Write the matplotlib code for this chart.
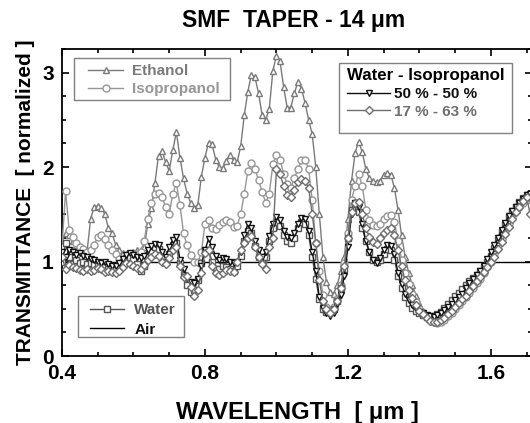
import matplotlib
matplotlib.use("Agg")
import matplotlib.pyplot as plt
from matplotlib.ticker import MultipleLocator
from matplotlib.patches import Rectangle
import numpy as np

plt.rcParams['font.family'] = ['Liberation Sans', 'DejaVu Sans']
plt.rcParams['font.weight'] = 'bold'

# wavelength grid in um, 0.40 ... 1.71
wavelength = np.round(np.arange(0.40, 1.715, 0.01), 2)

ethanol = [
    1.22, 1.30, 1.28, 1.22, 1.18, 1.14, 1.12, 1.10, 1.45, 1.58,
    1.59, 1.57, 1.50, 1.35, 1.30, 1.18, 1.12, 1.09, 1.08, 1.09,
    1.10, 1.12, 1.12, 1.15, 1.40, 1.57, 1.83, 2.12, 2.17, 2.05,
    1.96, 2.18, 2.37, 2.10, 1.88, 1.72, 1.62, 1.57, 1.60, 1.90,
    2.10, 2.26, 2.24, 2.08, 2.00, 1.99, 2.06, 2.13, 2.07, 2.05,
    2.22, 2.55, 2.80, 2.98, 2.95, 2.78, 2.55, 2.50, 2.62, 3.02,
    3.18, 3.12, 2.85, 2.63, 2.63, 2.78, 2.90, 2.83, 2.68, 2.50,
    2.35, 2.00, 1.50, 1.05, 0.78, 0.68, 0.66, 0.75, 0.90, 1.05,
    1.45, 1.85, 2.15, 2.27, 2.16, 1.98, 1.88, 1.85, 1.84, 1.85,
    1.92, 1.94, 1.92, 1.78, 1.55, 1.28, 1.05, 0.88, 0.75, 0.64,
    0.55, 0.48, 0.43, 0.39, 0.37, 0.36, 0.38, 0.41, 0.45, 0.49,
    0.53, 0.58, 0.62, 0.67, 0.72, 0.77, 0.83, 0.88, 0.94, 1.02,
    1.10, 1.18, 1.26, 1.33, 1.40, 1.47, 1.53, 1.58, 1.62, 1.66,
    1.68, 1.70,
]

isopropanol = [
    1.15, 1.75, 1.33, 1.26, 1.20, 1.15, 1.13, 1.10, 1.12, 1.18,
    1.26, 1.28, 1.24, 1.17, 1.12, 1.08, 1.03, 1.01, 1.00, 1.04,
    1.07, 1.08, 1.10, 1.22, 1.45, 1.62, 1.72, 1.73, 1.68, 1.58,
    1.50, 1.72, 1.83, 1.60, 1.30, 1.17, 1.07, 1.00, 0.99, 1.10,
    1.40, 1.44, 1.35, 1.34, 1.39, 1.42, 1.44, 1.42, 1.37, 1.38,
    1.50, 1.72, 1.96, 2.04, 1.98, 1.86, 1.74, 1.62, 1.72, 2.03,
    2.13, 2.08, 1.93, 1.82, 1.78, 1.88, 1.98, 2.07, 2.08, 1.98,
    1.65, 1.20, 0.90, 0.65, 0.52, 0.49, 0.52, 0.60, 0.75, 0.98,
    1.30, 1.65, 1.80, 1.93, 1.80, 1.55, 1.44, 1.39, 1.38, 1.40,
    1.45, 1.48, 1.49, 1.42, 1.22, 1.02, 0.88, 0.76, 0.66, 0.57,
    0.50, 0.45, 0.41, 0.38, 0.36, 0.35, 0.36, 0.38, 0.42, 0.46,
    0.50, 0.54, 0.58, 0.62, 0.67, 0.72, 0.77, 0.82, 0.88, 0.94,
    1.00, 1.08, 1.16, 1.24, 1.32, 1.40, 1.47, 1.53, 1.58, 1.62,
    1.65, 1.67,
]

water = [
    1.00, 1.20, 1.05, 0.97, 1.02, 0.98, 1.00, 0.97, 0.98, 0.96,
    0.95, 0.97, 0.94, 0.92, 0.90, 0.91, 0.95, 1.00, 1.04, 1.05,
    1.02, 0.97, 0.90, 0.95, 1.05, 1.10, 1.15, 1.13, 1.04, 1.00,
    1.08, 1.18, 1.20, 0.98, 0.86, 0.75, 0.68, 0.70, 0.80, 0.98,
    1.12, 1.12, 1.00, 0.92, 0.92, 0.95, 0.94, 0.92, 0.90, 0.95,
    1.06, 1.22, 1.32, 1.30, 1.16, 1.05, 1.00, 1.05, 1.22, 1.36,
    1.42, 1.38, 1.28, 1.22, 1.20, 1.25, 1.35, 1.42, 1.40, 1.28,
    1.05, 0.82, 0.60, 0.50, 0.47, 0.47, 0.50, 0.58, 0.72, 0.92,
    1.25, 1.55, 1.62, 1.52, 1.35, 1.22, 1.10, 1.02, 0.99, 1.02,
    1.08, 1.13, 1.12, 1.02, 0.85, 0.72, 0.62, 0.56, 0.51, 0.48,
    0.45, 0.43, 0.41, 0.41, 0.42, 0.44, 0.47, 0.51, 0.55, 0.59,
    0.63, 0.67, 0.71, 0.75, 0.79, 0.83, 0.86, 0.90, 0.94, 0.99,
    1.06, 1.14, 1.23, 1.32, 1.40, 1.47, 1.53, 1.58, 1.63, 1.67,
    1.70, 1.68,
]

mix_50_50 = [
    1.10, 1.05, 1.12, 1.10, 1.07, 1.09, 1.06, 1.05, 1.03, 1.02,
    1.00, 0.98, 0.99, 0.97, 0.95, 0.95, 0.98, 1.03, 1.07, 1.09,
    1.07, 1.05, 1.04, 1.06, 1.12, 1.16, 1.19, 1.17, 1.10, 1.05,
    1.15, 1.23, 1.26, 1.02, 0.92, 0.83, 0.78, 0.77, 0.82, 0.95,
    1.12, 1.24, 1.15, 1.06, 1.02, 1.04, 1.03, 1.00, 0.98, 1.00,
    1.10, 1.28, 1.40, 1.35, 1.22, 1.12, 1.05, 1.10, 1.27, 1.40,
    1.47, 1.44, 1.32, 1.26, 1.25, 1.30, 1.40, 1.46, 1.45, 1.32,
    1.10, 0.90, 0.62, 0.51, 0.46, 0.42, 0.46, 0.55, 0.65, 0.85,
    1.15, 1.50, 1.62, 1.58, 1.40, 1.22, 1.10, 1.02, 0.98, 1.04,
    1.12, 1.17, 1.16, 1.08, 0.88, 0.76, 0.66, 0.59, 0.54, 0.50,
    0.47, 0.45, 0.43, 0.42, 0.41, 0.43, 0.46, 0.49, 0.52, 0.55,
    0.59, 0.62, 0.66, 0.72, 0.77, 0.81, 0.86, 0.90, 0.95, 1.03,
    1.10, 1.17, 1.25, 1.33, 1.41, 1.48, 1.53, 1.58, 1.62, 1.66,
    1.70, 1.72,
]

mix_17_63 = [
    1.05, 0.92, 0.96, 0.94, 0.93, 0.91, 0.90, 0.92, 0.90, 0.91,
    0.93, 0.92, 0.89, 0.90, 0.89, 0.88, 0.90, 0.94, 0.98, 0.97,
    0.95, 0.93, 0.92, 0.96, 1.02, 1.05, 1.08, 1.06, 1.00, 0.97,
    1.04, 1.12, 1.15, 0.95, 0.84, 0.85, 0.73, 0.64, 0.70, 0.88,
    1.09, 1.12, 0.95, 0.88, 0.86, 0.88, 0.91, 0.90, 0.89, 0.99,
    1.12, 1.20, 1.25, 1.27, 1.15, 1.05, 0.97, 0.92, 1.15, 1.25,
    1.98, 1.93, 1.80, 1.70, 1.68, 1.76, 1.84, 1.87, 1.85, 1.78,
    1.50, 1.20, 0.80, 0.58, 0.50, 0.46, 0.50, 0.58, 0.72, 0.95,
    1.25, 1.52, 1.62, 1.63, 1.50, 1.36, 1.26, 1.21, 1.19, 1.25,
    1.30, 1.33, 1.35, 1.28, 1.12, 0.95, 0.80, 0.70, 0.61, 0.54,
    0.48, 0.44, 0.40, 0.37, 0.36, 0.36, 0.38, 0.40, 0.44, 0.48,
    0.52, 0.56, 0.60, 0.64, 0.69, 0.74, 0.79, 0.84, 0.89, 0.94,
    0.99, 1.05, 1.13, 1.21, 1.29, 1.37, 1.45, 1.52, 1.58, 1.64,
    1.68, 1.50,
]

air_level = 1.0

W, H = 530, 423
AX_L, AX_R, AX_T, AX_B = 62, 532, 49, 356  # axes box in pixels


def ax_frac(px, py):
    return (px - AX_L) / (AX_R - AX_L), (AX_B - py) / (AX_B - AX_T)


fig = plt.figure(figsize=(W / 100, H / 100), dpi=100)
ax = fig.add_axes([AX_L / W, 1 - AX_B / H, (AX_R - AX_L) / W, (AX_B - AX_T) / H])

ax.axhline(air_level, color='black', lw=1.0, zorder=1)

mk = dict(markerfacecolor='white', markersize=5, markeredgewidth=1.0, lw=1.0)
l_eth, = ax.plot(wavelength, ethanol, '-^', color='#7a7a7a', label='Ethanol', zorder=2, **mk)
l_iso, = ax.plot(wavelength, isopropanol, '-o', color='#969696', label='Isopropanol', zorder=3, **mk)
l_wat, = ax.plot(wavelength, water, '-s', color='#555555', label='Water', zorder=4, **mk)
l_50, = ax.plot(wavelength, mix_50_50, '-v', color='#111111', label='50 % - 50 %', zorder=5, **mk)
l_17, = ax.plot(wavelength, mix_17_63, '-D', color='#6e6e6e', label='17 % - 63 %', zorder=6,
                markerfacecolor='white', markersize=4.2, markeredgewidth=1.0, lw=1.0)
l_air = plt.Line2D([], [], color='black', lw=1.0, label='Air')

ax.set_xlim(0.4, 1.715)
ax.set_ylim(0, 3.25)
ax.xaxis.set_major_locator(MultipleLocator(0.4))
ax.xaxis.set_minor_locator(MultipleLocator(0.1))
ax.yaxis.set_major_locator(MultipleLocator(1))
ax.yaxis.set_minor_locator(MultipleLocator(0.25))
ax.tick_params(which='both', direction='in', top=True, right=True, width=1.2, labelsize=15)
ax.tick_params(which='major', length=5, pad=6)
ax.tick_params(which='minor', length=3)
for lab in ax.get_xticklabels() + ax.get_yticklabels():
    lab.set_fontweight('bold')
for s in ax.spines.values():
    s.set_linewidth(1.3)

fig.text(294 / W, 1 - 21 / H, 'SMF  TAPER - 14 \u03bcm', ha='center', va='center',
         fontsize=16.5, fontweight='bold')
ax.set_xlabel('WAVELENGTH  [ \u03bcm ]', fontsize=17, fontweight='bold', labelpad=13)
ax.set_ylabel('TRANSMITTANCE  [ normalized ]', fontsize=15, fontweight='bold', labelpad=5)

leg_kw = dict(frameon=False, borderaxespad=0, labelspacing=0.25,
              prop={'weight': 'bold', 'size': 11})


def frame(x0, y0, x1, y1):
    fx0, fy1 = ax_frac(x0, y0)
    fx1, fy0 = ax_frac(x1, y1)
    ax.add_patch(Rectangle((fx0, fy0), fx1 - fx0, fy1 - fy0, transform=ax.transAxes,
                           fill=True, facecolor='white', edgecolor='#808080', lw=1.0, zorder=8))


# legend 1: pure liquids
frame(74, 58, 230, 100)
leg1 = ax.legend(handles=[l_eth, l_iso], loc='upper left', bbox_to_anchor=ax_frac(82, 58),
                 handlelength=2.3, handletextpad=0.6, **leg_kw)
for t, c in zip(leg1.get_texts(), ['#7a7a7a', '#969696']):
    t.set_color(c)
leg1.set_zorder(9)
ax.add_artist(leg1)

# legend 2: mixtures
frame(339, 63, 512, 133)
leg2 = ax.legend(handles=[l_50, l_17], loc='upper left', bbox_to_anchor=ax_frac(341, 62),
                 title='Water - Isopropanol', title_fontproperties={'weight': 'bold', 'size': 12.2},
                 alignment='left', handlelength=2.8, handletextpad=0.25, **leg_kw)
leg2.get_title().set_color('black')
for t, c in zip(leg2.get_texts(), ['#111111', '#6e6e6e']):
    t.set_color(c)
leg2.set_zorder(9)
ax.add_artist(leg2)

# legend 3: references
frame(78, 296, 184, 337)
leg3 = ax.legend(handles=[l_wat, l_air], loc='upper left', bbox_to_anchor=ax_frac(84, 297),
                 handlelength=2.2, handletextpad=0.7,
                 **{**leg_kw, 'labelspacing': 0.36})
for t, c in zip(leg3.get_texts(), ['#555555', '#111111']):
    t.set_color(c)
leg3.set_zorder(9)

fig.savefig('out.png', dpi=100)
